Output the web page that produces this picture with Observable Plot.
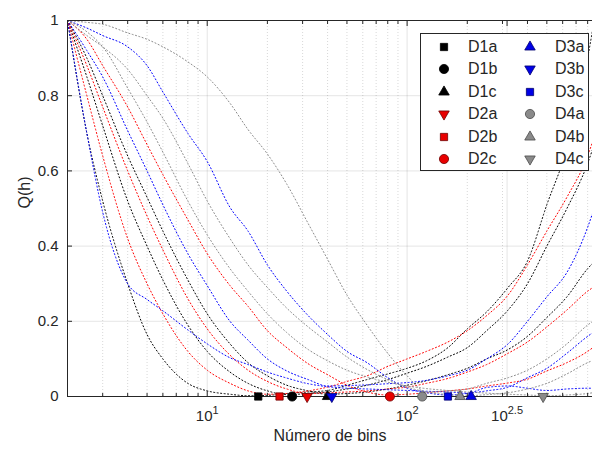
<!DOCTYPE html>
<html>
<head>
<meta charset="utf-8">
<script src="https://cdn.jsdelivr.net/npm/d3@7"></script>
<script src="https://cdn.jsdelivr.net/npm/@observablehq/plot@0.6"></script>
<style>
  body { margin: 0; background: #fff; }
  #wrap { position: relative; width: 592px; height: 450px; font-family: "Liberation Sans", Arial, sans-serif; color: #262626; }
  #legend { position: absolute; left: 420px; top: 33px; width: 169px; height: 138px; box-sizing: border-box;
            border: 1px solid #262626; background: #fff; }
  .lsym { position: absolute; width: 20px; height: 20px; }
  .ltxt { position: absolute; font-size: 16px; line-height: 20px; height: 20px; white-space: nowrap; }
</style>
</head>
<body>
<div id="wrap"></div>
<script>
// ---------- data ----------
const bins = [2, 2.5, 3, 4, 5, 6, 8, 10, 13, 16, 20, 25, 32, 40, 50, 63, 80, 100, 125, 160, 200, 250, 320, 400, 500, 630, 800, 850];

const D1a = [1, 0.7, 0.52, 0.3, 0.165, 0.1, 0.035, 0.015, 0.006, 0.002, 0.003, 0.008, 0.012, 0.016, 0.03, 0.045, 0.06, 0.075, 0.095, 0.13, 0.18, 0.225, 0.29, 0.36, 0.51, 0.66, 0.9, 0.98];
const D1b = [1, 0.85, 0.72, 0.52, 0.4, 0.31, 0.19, 0.12, 0.065, 0.035, 0.015, 0.005, 0.008, 0.012, 0.02, 0.03, 0.045, 0.062, 0.08, 0.105, 0.13, 0.175, 0.23, 0.3, 0.4, 0.5, 0.62, 0.66];
const D1c = [1, 0.9, 0.8, 0.64, 0.53, 0.44, 0.31, 0.22, 0.14, 0.09, 0.055, 0.03, 0.015, 0.006, 0.008, 0.012, 0.02, 0.03, 0.042, 0.058, 0.075, 0.1, 0.125, 0.16, 0.21, 0.265, 0.34, 0.355];
const D2a = [1, 0.88, 0.77, 0.6, 0.48, 0.39, 0.26, 0.18, 0.11, 0.07, 0.04, 0.02, 0.008, 0.01, 0.012, 0.015, 0.02, 0.025, 0.035, 0.048, 0.065, 0.085, 0.115, 0.145, 0.185, 0.23, 0.28, 0.29];
const D2b = [1, 0.8, 0.64, 0.42, 0.3, 0.22, 0.12, 0.07, 0.035, 0.015, 0.006, 0.008, 0.015, 0.025, 0.04, 0.055, 0.08, 0.1, 0.12, 0.145, 0.175, 0.215, 0.27, 0.35, 0.44, 0.53, 0.64, 0.68];
const D2c = [1, 0.95, 0.88, 0.77, 0.67, 0.59, 0.47, 0.38, 0.295, 0.24, 0.175, 0.13, 0.087, 0.058, 0.03, 0.012, 0.004, 0.006, 0.01, 0.015, 0.02, 0.028, 0.036, 0.046, 0.068, 0.09, 0.12, 0.13];
const D3a = [1, 0.7, 0.49, 0.3, 0.258, 0.228, 0.177, 0.14, 0.103, 0.085, 0.065, 0.049, 0.034, 0.026, 0.022, 0.02, 0.018, 0.016, 0.014, 0.012, 0.009, 0.024, 0.028, 0.022, 0.016, 0.02, 0.022, 0.022];
const D3b = [1, 0.92, 0.85, 0.707, 0.6, 0.51, 0.38, 0.295, 0.2, 0.15, 0.1, 0.068, 0.045, 0.028, 0.029, 0.031, 0.034, 0.037, 0.043, 0.055, 0.07, 0.1, 0.14, 0.2, 0.265, 0.33, 0.45, 0.49];
const D3c = [1, 0.98, 0.96, 0.93, 0.88, 0.81, 0.7, 0.625, 0.503, 0.44, 0.35, 0.28, 0.215, 0.165, 0.12, 0.09, 0.05, 0.022, 0.01, 0.004, 0.008, 0.015, 0.025, 0.05, 0.075, 0.115, 0.16, 0.17];
const D4a = [1, 0.995, 0.99, 0.967, 0.95, 0.93, 0.89, 0.85, 0.78, 0.71, 0.645, 0.565, 0.46, 0.365, 0.27, 0.19, 0.115, 0.055, 0.012, 0.015, 0.02, 0.035, 0.05, 0.07, 0.1, 0.14, 0.19, 0.2];
const D4b = [1, 0.96, 0.93, 0.87, 0.8, 0.74, 0.62, 0.52, 0.42, 0.35, 0.29, 0.235, 0.185, 0.145, 0.105, 0.072, 0.045, 0.025, 0.012, 0.005, 0.002, 0.005, 0.01, 0.02, 0.035, 0.06, 0.09, 0.096];
const D4c = [1, 0.97, 0.93, 0.82, 0.73, 0.65, 0.52, 0.43, 0.34, 0.28, 0.22, 0.17, 0.125, 0.095, 0.07, 0.052, 0.038, 0.028, 0.021, 0.016, 0.012, 0.009, 0.006, 0.004, 0.002, 0.004, 0.008, 0.01];

const seriesNames = ["D1a", "D1b", "D1c", "D2a", "D2b", "D2c", "D3a", "D3b", "D3c", "D4a", "D4b", "D4c"];
const seriesValues = [D1a, D1b, D1c, D2a, D2b, D2c, D3a, D3b, D3c, D4a, D4b, D4c];
// bin count at the minimum of each curve (markers on the axis)
const minBins = [18, 26.6, 40, 31.6, 23, 82, 209, 42, 160, 119, 184, 479];

const xTickExponents = [1, 2, 2.5];
const xMinorTicks = [2, 3, 4, 5, 6, 7, 8, 9, 20, 30, 40, 50, 60, 70, 80, 90, 200, 300, 400, 500, 600, 700, 800];
const yTicks = [0, 0.2, 0.4, 0.6, 0.8, 1];

// ---------- styling ----------
const lineColor = {D1: "#000000", D2: "#ff0000", D3: "#0000ff", D4: "#8c8c8c"};
const markFill = {D1: "#000000", D2: "#e80000", D3: "#0000e6", D4: "#8a8a8a"};
const markStroke = {D1: "#000000", D2: "#6e0000", D3: "#00006e", D4: "#4a4a4a"};
const triangleDown = {
  draw(ctx, size) {
    const y = Math.sqrt(size / (3 * Math.sqrt(3)));
    ctx.moveTo(0, 2 * y);
    ctx.lineTo(-Math.sqrt(3) * y, -y);
    ctx.lineTo(Math.sqrt(3) * y, -y);
    ctx.closePath();
  }
};
const shapeCycle = ["square", "circle", "triangle", "down"];
const shapeSymbol = {square: d3.symbolSquare, circle: d3.symbolCircle, triangle: d3.symbolTriangle, down: triangleDown};
const shapeR = {square: 4.1, circle: 4.6, triangle: 3.9, down: 3.9};

const majorTicks = xTickExponents.map(e => Math.pow(10, e));

const lineRows = [];
seriesNames.forEach((name, i) => {
  seriesValues[i].forEach((q, j) => lineRows.push({name, bin: bins[j], q, color: lineColor[name.slice(0, 2)]}));
});
const markerRows = seriesNames.map((name, i) => ({
  name, bin: minBins[i], shape: shapeCycle[i % 4],
  fill: markFill[name.slice(0, 2)], stroke: markStroke[name.slice(0, 2)]
}));

const fmtY = d => d === 0 ? "0" : d === 1 ? "1" : d.toFixed(1);
const expOf = d => Math.round(Math.log10(d) * 10) / 10;
const axisColor = "#262626";

const markerMarks = Object.keys(shapeSymbol).map(s =>
  Plot.dot(markerRows.filter(d => d.shape === s), {
    x: "bin", frameAnchor: "bottom", symbol: shapeSymbol[s], r: shapeR[s],
    fill: "fill", stroke: "stroke", strokeWidth: 0.8
  })
);

const chart = Plot.plot({
  width: 592, height: 450,
  marginLeft: 67, marginRight: 0, marginTop: 20, marginBottom: 54,
  style: {fontFamily: "'Liberation Sans', Arial, sans-serif", fontSize: "15px", color: axisColor, background: "#fff"},
  x: {type: "log", domain: [2, 846]},
  y: {domain: [0, 1]},
  color: {type: "identity"},
  marks: [
    Plot.gridY(yTicks, {stroke: axisColor, strokeOpacity: 0.12}),
    Plot.gridX(majorTicks, {stroke: axisColor, strokeOpacity: 0.12}),
    Plot.gridX(xMinorTicks, {stroke: axisColor, strokeOpacity: 0.18, strokeDasharray: "1,2"}),
    Plot.line(lineRows, {x: "bin", y: "q", z: "name", stroke: "color", strokeWidth: 1,
      strokeDasharray: "1.1,2.4", curve: "monotone-x", clip: true}),
    Plot.ruleY([0, 1], {stroke: axisColor, strokeWidth: 1}),
    Plot.ruleX([2], {stroke: axisColor, strokeWidth: 1}),
    Plot.axisX(majorTicks, {anchor: "bottom", tickSize: -5, tickFormat: () => "", label: null, stroke: axisColor}),
    Plot.axisX(xMinorTicks, {anchor: "bottom", tickSize: -3, tickFormat: () => "", label: null, stroke: axisColor}),
    Plot.axisX(majorTicks, {anchor: "top", tickSize: -5, tickFormat: () => "", label: null, stroke: axisColor}),
    Plot.axisX(xMinorTicks, {anchor: "top", tickSize: -3, tickFormat: () => "", label: null, stroke: axisColor}),
    Plot.text(majorTicks, {x: d => d, text: d => "10|" + expOf(d), frameAnchor: "bottom", dy: 24, fontSize: 15, fill: axisColor}),
    Plot.axisY(yTicks, {anchor: "left", tickSize: -5, tickFormat: () => "", label: null, stroke: axisColor}),
    Plot.axisY(yTicks, {anchor: "left", tickSize: 0, tickPadding: 9, tickFormat: fmtY, label: null, fontSize: 15, fill: axisColor}),
    Plot.text(["Número de bins"], {text: d => d, frameAnchor: "bottom", dy: 44, fontSize: 16, fill: axisColor}),
    Plot.text(["Q(h)"], {text: d => d, frameAnchor: "left", rotate: -90, dx: -43, fontSize: 16, fill: axisColor}),
    ...markerMarks
  ]
});

// superscript exponents on the log-axis labels (10^1, 10^2, 10^2.5)
const NS = "http://www.w3.org/2000/svg";
chart.querySelectorAll("text").forEach(t => {
  const s = t.textContent;
  if (!s.startsWith("10|")) return;
  t.textContent = "";
  t.setAttribute("font-size", "15");
  const base = document.createElementNS(NS, "tspan");
  base.textContent = "10";
  base.setAttribute("font-size", "15");
  const sup = document.createElementNS(NS, "tspan");
  sup.textContent = s.slice(3);
  sup.setAttribute("dy", "-0.55em");
  sup.setAttribute("font-size", "11");
  t.append(base, sup);
});
chart.querySelectorAll('g[aria-label="y-axis tick label"] text').forEach(t => t.setAttribute("font-size", "15"));

const wrap = document.getElementById("wrap");
wrap.appendChild(chart);

// ---------- legend (inside the axes, top right) ----------
const legend = document.createElement("div");
legend.id = "legend";
wrap.appendChild(legend);
const legLeft = 420, legTop = 33;
seriesNames.forEach((name, i) => {
  const col = i < 6 ? 0 : 1, row = i % 6;
  const cx = col === 0 ? 444 : 530;          // marker centre (page px)
  const tx = col === 0 ? 468 : 555;          // label start (page px)
  const cy = 47 + row * 22.4;                // row centre (page px)
  const s = markerRows[i];
  const path = d3.symbol(shapeSymbol[s.shape], Math.PI * shapeR[s.shape] ** 2)();
  const sym = document.createElementNS(NS, "svg");
  sym.setAttribute("class", "lsym");
  sym.setAttribute("viewBox", "-10 -10 20 20");
  sym.style.left = (cx - 10 - legLeft - 1) + "px";
  sym.style.top = (cy - 10 - legTop - 1) + "px";
  sym.innerHTML = `<path d="${path}" fill="${s.fill}" stroke="${s.stroke}" stroke-width="0.8"/>`;
  legend.appendChild(sym);
  const txt = document.createElement("div");
  txt.className = "ltxt";
  txt.textContent = name;
  txt.style.left = (tx - legLeft - 1) + "px";
  txt.style.top = (cy - 10 - legTop - 1) + "px";
  legend.appendChild(txt);
});
</script>
</body>
</html>
